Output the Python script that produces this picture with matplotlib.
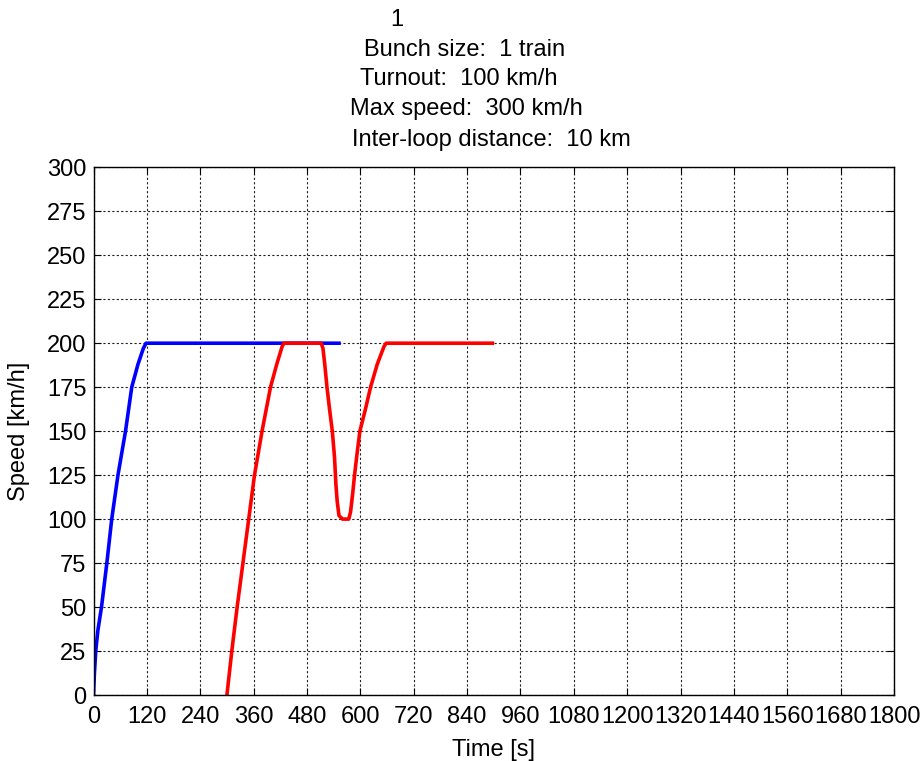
import numpy as np
import matplotlib.pyplot as plt

plt.rcParams['font.family'] = ['Liberation Sans', 'DejaVu Sans']

# first train (blue) - time [s], speed [km/h]
t_blue = [0, 2, 5, 10, 18, 30, 41, 55, 72, 86, 100, 112, 118, 122, 552]
v_blue = [0, 12, 25, 37, 50, 75, 100, 125, 150, 175, 188, 197, 200, 200, 200]

# second train (red) - passes the turnout at 100 km/h
t_red = [300, 311, 323, 336, 349, 362, 379, 398, 412, 424, 428, 512, 516, 520, 525,
         531, 537, 542, 545, 548, 552, 560, 574, 578, 583, 587, 593, 599, 611, 623,
         638, 653, 658, 897]
v_red = [0, 25, 50, 75, 100, 125, 150, 175, 188, 198, 200, 200, 197, 188, 175,
         162, 150, 135, 120, 110, 102, 100, 100, 104, 115, 125, 138, 150, 162, 175,
         188, 198, 200, 200]

title_lines = ['1', 'Bunch size:  1 train', 'Turnout:  100 km/h',
               'Max speed:  300 km/h', 'Inter-loop distance:  10 km']
title_x = [397, 465, 459, 466, 491]
title_y = [20, 50, 79, 109, 140]

W, H = 922, 761
fig = plt.figure(figsize=(W / 100, H / 100), dpi=100)
ax = fig.add_axes([93.5 / W, 1 - 695 / H, (894 - 93.5) / W, (695 - 167.3) / H])

ax.plot(t_blue, v_blue, color='#0000ff', lw=2.6)
ax.plot(t_red, v_red, color='#ff0000', lw=2.6)

ax.set_xlim(0, 1800)
ax.set_ylim(0, 300)
ax.set_xticks(np.arange(0, 1801, 120))
ax.set_yticks(np.arange(0, 301, 25))
ax.tick_params(direction='in', top=True, right=True, labelsize=17, length=5)
ax.tick_params(axis='x', pad=8)
ax.tick_params(axis='y', pad=5)
ax.grid(True, color='#222222', linestyle=(0, (2, 2)), linewidth=0.8)
for s in ax.spines.values():
    s.set_linewidth(1.0)

ax.set_xlabel('Time [s]', fontsize=17, labelpad=8)
ax.set_ylabel('Speed [km/h]', fontsize=17, labelpad=12)

for txt, x, y in zip(title_lines, title_x, title_y):
    fig.text(x / W, 1 - y / H, txt, ha='center', va='center', fontsize=17)

fig.savefig('out.png', dpi=100)
